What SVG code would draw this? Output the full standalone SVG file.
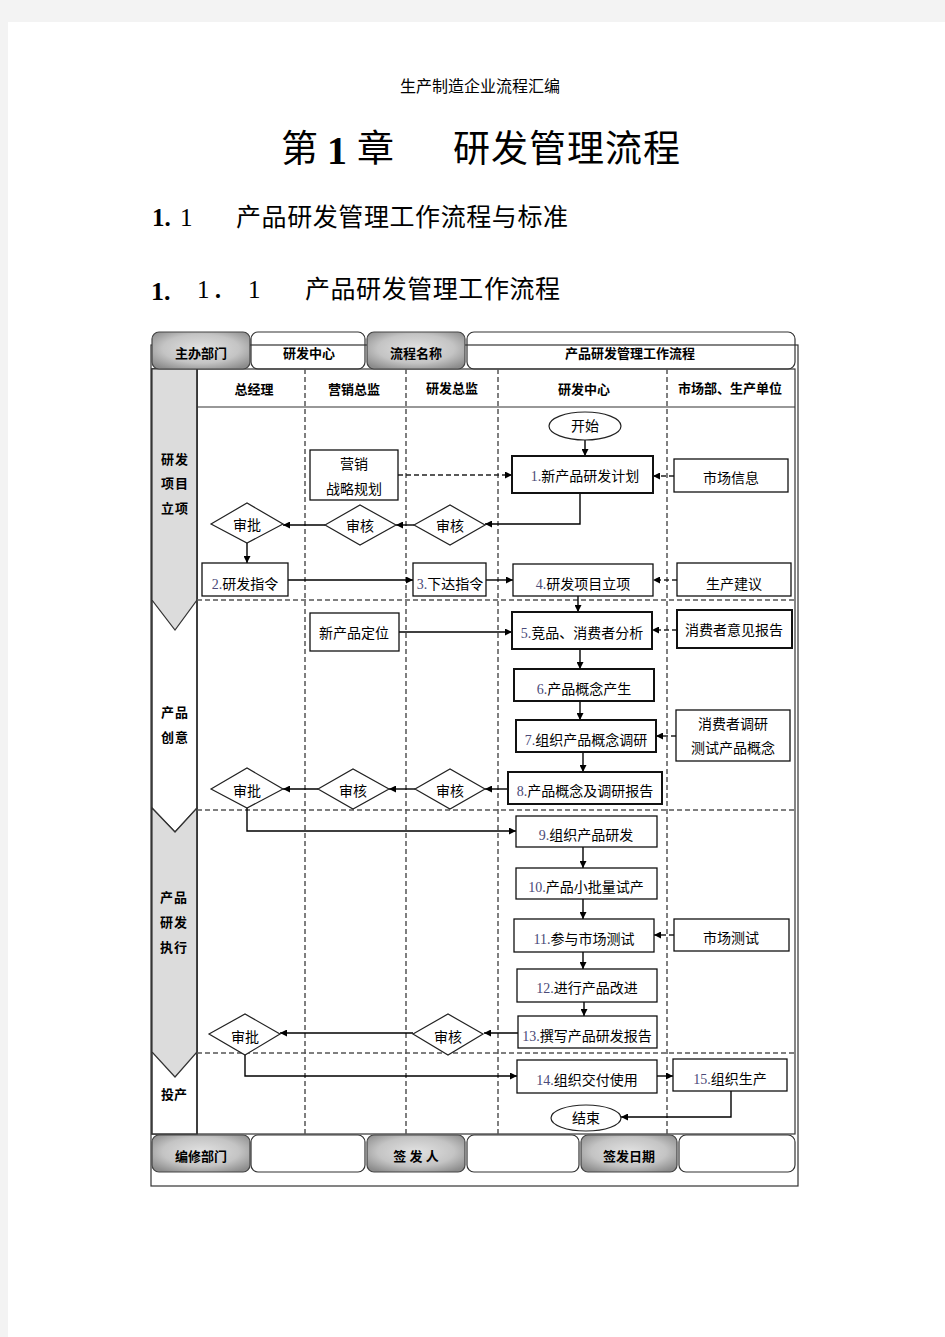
<svg xmlns="http://www.w3.org/2000/svg" width="945" height="1337" viewBox="0 0 945 1337">
<style>
.t{font-family:"Liberation Serif","Noto Sans CJK SC",serif;fill:#000}
.n{font-size:14px;text-anchor:middle}
.h{font-size:13px;font-weight:bold;text-anchor:middle}
.num{fill:#4a4a78}
.box{fill:#fff;stroke:#111;stroke-width:1.3}
.boxb{fill:#fff;stroke:#111;stroke-width:2}
.dia{fill:#fff;stroke:#222;stroke-width:1.2}
.ell{fill:#fff;stroke:#222;stroke-width:1.2}
.lane{stroke:#555;stroke-width:1.5;stroke-dasharray:5,3;fill:none}
.c{stroke:#000;stroke-width:1.4;fill:none;marker-end:url(#ah)}
.cd{stroke:#222;stroke-width:1.4;fill:none;stroke-dasharray:5,3;marker-end:url(#ah)}
.gtab{fill:url(#gg);stroke:#444;stroke-width:1.2}
.wtab{fill:none;stroke:#333;stroke-width:1.2}
</style>
<defs>
<marker id="ah" viewBox="0 0 10 10" refX="10" refY="5" markerWidth="7" markerHeight="7" markerUnits="userSpaceOnUse" orient="auto">
<path d="M0,0 L10,5 L0,10 z" fill="#000"/>
</marker>
<radialGradient id="gg" cx="50%" cy="45%" r="65%">
<stop offset="0" stop-color="#e2e2e2"/>
<stop offset="0.6" stop-color="#c4c4c4"/>
<stop offset="1" stop-color="#8c8c8c"/>
</radialGradient>
</defs>
<rect x="0" y="0" width="945" height="1337" fill="#f3f3f3"/>
<rect x="8" y="22" width="937" height="1315" fill="#fff"/>

<g id="page-headings">
<text class="t" x="480" y="92" font-size="16" text-anchor="middle">生产制造企业流程汇编</text>
<text class="t" x="281" y="162" font-size="37">第</text>
<text class="t" x="327" y="164" font-size="40" font-weight="bold">1</text>
<text class="t" x="357" y="162" font-size="37">章</text>
<text class="t" x="453" y="162" font-size="37" textLength="227">研发管理流程</text>
<text class="t" x="152" y="226" font-size="25" font-weight="bold">1.</text>
<text class="t" x="180" y="226" font-size="25">1</text>
<text class="t" x="236" y="226" font-size="25" textLength="332">产品研发管理工作流程与标准</text>
<text class="t" x="151" y="300" font-size="26" font-weight="bold">1.</text>
<text class="t" x="197" y="298" font-size="25">1</text>
<text class="t" x="212" y="298" font-size="25">．</text>
<text class="t" x="248" y="298" font-size="25">1</text>
<text class="t" x="305" y="298" font-size="25" textLength="255">产品研发管理工作流程</text>
</g>

<g id="frame">
<rect x="151" y="345" width="647" height="841" fill="#fff" stroke="#333" stroke-width="1.2"/>
<rect x="152" y="369" width="643" height="765" fill="#fff" stroke="#333" stroke-width="1.2"/>
<line x1="197" y1="407" x2="795" y2="407" stroke="#333" stroke-width="1.2"/>
<rect x="152" y="369" width="45" height="765" fill="#fff" stroke="#333" stroke-width="1.5"/>
<polygon points="152,369 197,369 197,600 175,630 152,600" fill="#dcdcdc" stroke="#333" stroke-width="1.2"/>
<polyline points="152,808 175,832 197,808" fill="none" stroke="#333" stroke-width="1.2"/>
<polygon points="152,808 175,832 197,808 197,1052 175,1077 152,1052" fill="#dcdcdc" stroke="#333" stroke-width="1.2"/>
<line x1="197" y1="369" x2="197" y2="1134" stroke="#333" stroke-width="1.5"/>
</g>

<g id="header-tabs">
<rect class="wtab" x="251" y="332" width="114" height="37" rx="7"/>
<rect class="wtab" x="467" y="332" width="328" height="37" rx="7"/>
<rect class="gtab" x="152" y="332" width="98" height="37" rx="7"/>
<rect class="gtab" x="367" y="332" width="98" height="37" rx="7"/>
<text class="t h" x="201" y="358">主办部门</text>
<text class="t h" x="309" y="358">研发中心</text>
<text class="t h" x="416" y="358">流程名称</text>
<text class="t h" x="630" y="358">产品研发管理工作流程</text>
</g>

<g id="lanes">
<line class="lane" x1="305" y1="369" x2="305" y2="1134"/>
<line class="lane" x1="406" y1="369" x2="406" y2="1134"/>
<line class="lane" x1="498" y1="369" x2="498" y2="1134"/>
<line class="lane" x1="667" y1="369" x2="667" y2="1134"/>
<line class="lane" x1="197" y1="600" x2="795" y2="600"/>
<line class="lane" x1="197" y1="810" x2="795" y2="810"/>
<line class="lane" x1="197" y1="1053" x2="795" y2="1053"/>
<text class="t h" x="254" y="394">总经理</text>
<text class="t h" x="354" y="394">营销总监</text>
<text class="t h" x="452" y="393">研发总监</text>
<text class="t h" x="584" y="394">研发中心</text>
<text class="t h" x="730" y="393">市场部、生产单位</text>
</g>

<g id="phases">
<text class="t h" x="175" y="464" letter-spacing="1">研发</text>
<text class="t h" x="175" y="488" letter-spacing="1">项目</text>
<text class="t h" x="175" y="513" letter-spacing="1">立项</text>
<text class="t h" x="175" y="717" letter-spacing="1">产品</text>
<text class="t h" x="175" y="742" letter-spacing="1">创意</text>
<text class="t h" x="174" y="902" letter-spacing="1">产品</text>
<text class="t h" x="174" y="927" letter-spacing="1">研发</text>
<text class="t h" x="174" y="952" letter-spacing="1">执行</text>
<text class="t h" x="174" y="1099">投产</text>
</g>

<g id="connectors">
<path class="c" d="M585,440 V456"/>
<path class="cd" d="M398,475 H512"/>
<path class="cd" d="M674,476 H653"/>
<path class="c" d="M580,493 V524 H485"/>
<path class="c" d="M414,525 H396"/>
<path class="c" d="M325,525 H283"/>
<path class="c" d="M247,543 V563"/>
<path class="c" d="M288,580 H413"/>
<path class="c" d="M486,580 H513"/>
<path class="cd" d="M677,580 H653"/>
<path class="c" d="M578,596 V612"/>
<path class="c" d="M399,632 H512"/>
<path class="cd" d="M677,630 H652"/>
<path class="c" d="M580,649 V669"/>
<path class="c" d="M580,701 V720"/>
<path class="c" d="M583,752 V772"/>
<path class="cd" d="M676,736 H656"/>
<path class="c" d="M508,789 H485"/>
<path class="c" d="M415,789 H389"/>
<path class="c" d="M318,789 H283"/>
<path class="c" d="M247,808 V831 H516"/>
<path class="c" d="M583,847 V868"/>
<path class="c" d="M583,899 V919"/>
<path class="cd" d="M674,935 H654"/>
<path class="c" d="M583,952 V969"/>
<path class="c" d="M584,1002 V1016"/>
<path class="c" d="M518,1033 H484"/>
<path class="c" d="M413,1033 H280"/>
<path class="c" d="M245,1055 V1076 H517"/>
<path class="c" d="M657,1076 H673"/>
<path class="c" d="M731,1091 V1117 H621"/>
</g>

<g id="start"><ellipse class="ell" cx="585" cy="426" rx="36" ry="14"/><text class="t n" x="585" y="431">开始</text></g>
<g id="n1"><rect class="boxb" x="512" y="456" width="141" height="37"/><text class="t n" x="585" y="481"><tspan class="num">1.</tspan>新产品研发计划</text></g>
<g id="market-info"><rect class="box" x="674" y="459" width="114" height="33"/><text class="t n" x="731" y="483">市场信息</text></g>
<g id="marketing-plan"><rect class="box" x="310" y="450" width="88" height="50"/><text class="t n" x="354" y="469">营销</text><text class="t n" x="354" y="494">战略规划</text></g>
<g id="d1-rd"><polygon class="dia" points="414,525 450,505 485,525 450,545"/><text class="t n" x="450" y="531">审核</text></g>
<g id="d1-mk"><polygon class="dia" points="325,525 360,505 396,525 360,545"/><text class="t n" x="360" y="531">审核</text></g>
<g id="d1-gm"><polygon class="dia" points="211,524 247,503 283,524 247,543"/><text class="t n" x="247" y="530">审批</text></g>
<g id="n2"><rect class="box" x="202" y="563" width="86" height="33"/><text class="t n" x="245" y="589"><tspan class="num">2.</tspan>研发指令</text></g>
<g id="n3"><rect class="box" x="413" y="563" width="73" height="33"/><text class="t n" x="450" y="589"><tspan class="num">3.</tspan>下达指令</text></g>
<g id="n4"><rect class="box" x="513" y="564" width="140" height="32"/><text class="t n" x="583" y="589"><tspan class="num">4.</tspan>研发项目立项</text></g>
<g id="prod-advice"><rect class="box" x="677" y="563" width="114" height="33"/><text class="t n" x="734" y="589">生产建议</text></g>
<g id="positioning"><rect class="box" x="310" y="613" width="89" height="38"/><text class="t n" x="354" y="638">新产品定位</text></g>
<g id="n5"><rect class="boxb" x="512" y="612" width="140" height="37"/><text class="t n" x="582" y="638"><tspan class="num">5.</tspan>竞品、消费者分析</text></g>
<g id="consumer-report"><rect class="boxb" x="677" y="610" width="115" height="38"/><text class="t n" x="734" y="635">消费者意见报告</text></g>
<g id="n6"><rect class="boxb" x="514" y="669" width="140" height="32"/><text class="t n" x="584" y="694"><tspan class="num">6.</tspan>产品概念产生</text></g>
<g id="n7"><rect class="boxb" x="516" y="720" width="140" height="32"/><text class="t n" x="586" y="745"><tspan class="num">7.</tspan>组织产品概念调研</text></g>
<g id="consumer-test"><rect class="box" x="676" y="710" width="114" height="51"/><text class="t n" x="733" y="729">消费者调研</text><text class="t n" x="733" y="753">测试产品概念</text></g>
<g id="n8"><rect class="boxb" x="508" y="772" width="154" height="32"/><text class="t n" x="585" y="796"><tspan class="num">8.</tspan>产品概念及调研报告</text></g>
<g id="d2-rd"><polygon class="dia" points="415,789 450,769 485,789 450,809"/><text class="t n" x="450" y="796">审核</text></g>
<g id="d2-mk"><polygon class="dia" points="318,789 353,769 389,789 353,809"/><text class="t n" x="353" y="796">审核</text></g>
<g id="d2-gm"><polygon class="dia" points="211,789 247,768 283,789 247,808"/><text class="t n" x="247" y="796">审批</text></g>
<g id="n9"><rect class="box" x="516" y="816" width="141" height="31"/><text class="t n" x="586" y="840"><tspan class="num">9.</tspan>组织产品研发</text></g>
<g id="n10"><rect class="box" x="516" y="868" width="141" height="31"/><text class="t n" x="586" y="892"><tspan class="num">10.</tspan>产品小批量试产</text></g>
<g id="n11"><rect class="box" x="514" y="919" width="140" height="33"/><text class="t n" x="584" y="944"><tspan class="num">11.</tspan>参与市场测试</text></g>
<g id="market-test"><rect class="box" x="674" y="919" width="115" height="32"/><text class="t n" x="731" y="943">市场测试</text></g>
<g id="n12"><rect class="box" x="517" y="969" width="140" height="33"/><text class="t n" x="587" y="993"><tspan class="num">12.</tspan>进行产品改进</text></g>
<g id="n13"><rect class="box" x="518" y="1016" width="139" height="32"/><text class="t n" x="587" y="1041"><tspan class="num">13.</tspan>撰写产品研发报告</text></g>
<g id="d3-rd"><polygon class="dia" points="413,1034 448,1014 483,1034 448,1055"/><text class="t n" x="448" y="1042">审核</text></g>
<g id="d3-gm"><polygon class="dia" points="209,1034 245,1014 280,1034 245,1055"/><text class="t n" x="245" y="1042">审批</text></g>
<g id="n14"><rect class="box" x="517" y="1060" width="140" height="33"/><text class="t n" x="587" y="1085"><tspan class="num">14.</tspan>组织交付使用</text></g>
<g id="n15"><rect class="box" x="673" y="1059" width="114" height="32"/><text class="t n" x="730" y="1084"><tspan class="num">15.</tspan>组织生产</text></g>
<g id="end"><ellipse class="ell" cx="586" cy="1118" rx="35" ry="13"/><text class="t n" x="586" y="1123">结束</text></g>

<g id="footer-tabs">
<rect class="wtab" x="251" y="1135" width="114" height="37" rx="7" fill="#fff"/>
<rect class="wtab" x="467" y="1135" width="112" height="37" rx="7"/>
<rect class="wtab" x="679" y="1135" width="116" height="37" rx="7"/>
<rect class="gtab" x="152" y="1135" width="98" height="37" rx="7"/>
<rect class="gtab" x="367" y="1135" width="98" height="37" rx="7"/>
<rect class="gtab" x="581" y="1135" width="96" height="37" rx="7"/>
<text class="t h" x="201" y="1161">编修部门</text>
<text class="t h" x="416" y="1161" xml:space="preserve">签 发 人</text>
<text class="t h" x="629" y="1161">签发日期</text>
</g>
</svg>
